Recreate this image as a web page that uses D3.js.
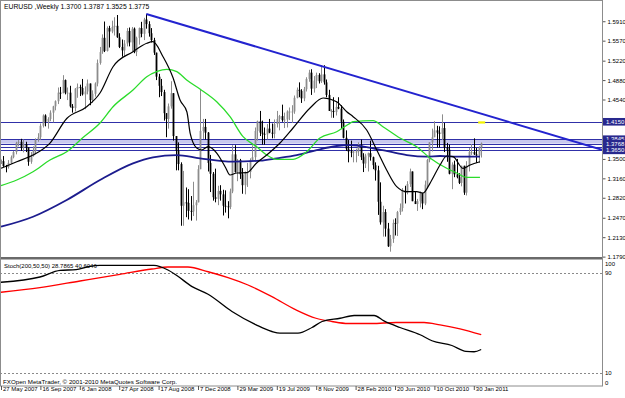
<!DOCTYPE html>
<html>
<head>
<meta charset="utf-8">
<script src="https://cdn.jsdelivr.net/npm/d3@7"></script>
<style>
  body { margin: 0; background: #fff; }
  svg { display: block; }
  text { font-family: "Liberation Sans", Arial, sans-serif; }
</style>
</head>
<body>
<svg id="chart" width="625" height="398"></svg>
<script>
// weekly EURUSD bars, 27 May 2007 .. 20 Feb 2011 (open = previous close)
var firstOpen = 1.3440;
var closes = [
  1.3460,1.3375,1.3360,1.3430,1.3530,1.3620,1.3780,1.3800,1.3690,1.3760,
  1.3700,1.3450,1.3560,1.3640,1.3830,1.3880,1.4080,1.4260,1.4150,1.4200,
  1.4310,1.4420,1.4510,1.4660,1.4650,1.4880,1.4660,1.4660,1.4420,1.4390,
  1.4730,1.4760,1.4740,1.4630,1.4680,1.4820,1.4530,1.4640,1.4820,1.5180,
  1.5370,1.5620,1.5390,1.5790,1.5730,1.5810,1.5830,1.5630,1.5460,1.5400,
  1.5520,1.5740,1.5540,1.5780,1.5370,1.5620,1.5790,1.5690,1.5940,1.5860,
  1.5700,1.5580,1.5360,1.4940,1.4780,1.4670,1.4300,1.4200,1.4420,1.4650,
  1.3900,1.3640,1.3410,1.2680,1.2740,1.2730,1.2590,1.2580,1.2690,1.2740,
  1.3320,1.3990,1.4060,1.3960,1.3430,1.3240,1.2830,1.2800,1.2940,1.2880,
  1.2680,1.2670,1.2660,1.2930,1.3580,1.3270,1.3480,1.3230,1.3040,1.3250,
  1.3270,1.3480,1.3530,1.3990,1.4160,1.3960,1.3940,1.3930,1.4030,1.3960,
  1.3940,1.4110,1.4200,1.4250,1.4180,1.4190,1.4330,1.4330,1.4330,1.4570,
  1.4710,1.4690,1.4560,1.4720,1.4900,1.5010,1.4730,1.4870,1.4970,1.4860,
  1.4980,1.4840,1.4620,1.4340,1.4340,1.4320,1.4410,1.4380,1.4150,1.3870,
  1.3680,1.3630,1.3610,1.3630,1.3630,1.3750,1.3530,1.3420,1.3560,1.3600,
  1.3530,1.3390,1.3300,1.2750,1.2390,1.2570,1.2280,1.1970,1.2100,1.2380,
  1.2370,1.2570,1.2640,1.2940,1.2910,1.3060,1.3280,1.2760,1.2710,1.2760,
  1.2900,1.2720,1.3050,1.3480,1.3790,1.3880,1.4000,1.3960,1.3940,1.4040,
  1.3700,1.3660,1.3240,1.3400,1.3230,1.3180,1.3080,1.3380,1.2910,1.3380,
  1.3620,1.3620,1.3580,1.3560,1.3700,1.3775
];
var highs = [
  1.3490,1.3550,1.3395,1.3480,1.3560,1.3640,1.3800,1.3830,1.3852,1.3840,
  1.3800,1.3700,1.3620,1.3720,1.3860,1.3950,1.4120,1.4280,1.4280,1.4230,
  1.4350,1.4430,1.4525,1.4750,1.4760,1.4966,1.4890,1.4750,1.4780,1.4460,
  1.4740,1.4820,1.4800,1.4900,1.4770,1.4890,1.4800,1.4700,1.4840,1.5240,
  1.5460,1.5680,1.5905,1.5820,1.5830,1.5920,1.5980,1.6019,1.5700,1.5590,
  1.5580,1.5790,1.5800,1.5810,1.5800,1.5640,1.5800,1.5900,1.5970,1.6038,
  1.5910,1.5790,1.5620,1.5330,1.4990,1.4900,1.4710,1.4290,1.4470,1.4860,
  1.4650,1.3890,1.3790,1.3440,1.3290,1.3000,1.2970,1.2850,1.3100,1.2780,
  1.3390,1.4720,1.4200,1.4200,1.3970,1.3570,1.3270,1.3330,1.3030,1.3040,
  1.2960,1.2950,1.2760,1.2980,1.3740,1.3740,1.3500,1.3500,1.3340,1.3280,
  1.3430,1.3510,1.3740,1.4050,1.4170,1.4340,1.4170,1.4050,1.4110,1.4200,
  1.4120,1.4190,1.4340,1.4270,1.4450,1.4310,1.4350,1.4400,1.4440,1.4610,
  1.4750,1.4840,1.4720,1.4760,1.4930,1.5060,1.5070,1.4950,1.5010,1.5000,
  1.5144,1.5140,1.4890,1.4710,1.4370,1.4580,1.4510,1.4580,1.4440,1.4190,
  1.4000,1.3830,1.3820,1.3660,1.3680,1.3790,1.3840,1.3600,1.3590,1.3610,
  1.3820,1.3540,1.3440,1.3380,1.3090,1.2680,1.2620,1.2380,1.2170,1.2440,
  1.2460,1.2590,1.2720,1.2990,1.3030,1.3110,1.3330,1.3210,1.2920,1.2800,
  1.2930,1.2900,1.3120,1.3500,1.3790,1.4030,1.4160,1.4080,1.4070,1.4280,
  1.4130,1.3780,1.3750,1.3440,1.3470,1.3500,1.3250,1.3380,1.3380,1.3460,
  1.3690,1.3760,1.3860,1.3690,1.3720,1.3787
];
var lows = [
  1.3410,1.3360,1.3265,1.3330,1.3410,1.3510,1.3580,1.3720,1.3640,1.3615,
  1.3620,1.3380,1.3415,1.3540,1.3580,1.3800,1.3835,1.4050,1.4070,1.4030,
  1.4160,1.4140,1.4350,1.4460,1.4550,1.4670,1.4630,1.4530,1.4400,1.4310,
  1.4330,1.4570,1.4600,1.4610,1.4370,1.4630,1.4440,1.4480,1.4590,1.4770,
  1.5150,1.5340,1.5370,1.5380,1.5450,1.5700,1.5660,1.5620,1.5440,1.5290,
  1.5300,1.5470,1.5470,1.5380,1.5350,1.5300,1.5500,1.5630,1.5580,1.5780,
  1.5640,1.5540,1.5320,1.4880,1.4580,1.4600,1.4170,1.3880,1.4030,1.4380,
  1.3820,1.3300,1.3300,1.2330,1.2330,1.2480,1.2440,1.2420,1.2500,1.2420,
  1.2740,1.3320,1.3850,1.3840,1.3280,1.2920,1.2770,1.2740,1.2690,1.2770,
  1.2510,1.2560,1.2460,1.2620,1.2900,1.3260,1.3110,1.3150,1.2890,1.2880,
  1.3010,1.3160,1.3470,1.3470,1.3820,1.3900,1.3750,1.3750,1.3840,1.3950,
  1.3860,1.3860,1.4050,1.4000,1.4150,1.4040,1.4050,1.4180,1.4130,1.4290,
  1.4560,1.4580,1.4480,1.4510,1.4680,1.4850,1.4620,1.4660,1.4740,1.4820,
  1.4830,1.4800,1.4580,1.4340,1.4220,1.4220,1.4260,1.4370,1.4030,1.3860,
  1.3640,1.3440,1.3530,1.3440,1.3440,1.3550,1.3480,1.3270,1.3340,1.3280,
  1.3470,1.3320,1.3120,1.2520,1.2350,1.2140,1.2140,1.1960,1.1876,1.2030,
  1.2160,1.2150,1.2520,1.2580,1.2720,1.2880,1.3010,1.2760,1.2710,1.2590,
  1.2650,1.2620,1.2690,1.3000,1.3440,1.3630,1.3900,1.3700,1.3700,1.3830,
  1.3620,1.3450,1.3230,1.2970,1.3180,1.3160,1.3060,1.3020,1.2870,1.2860,
  1.3280,1.3570,1.3570,1.3430,1.3430,1.3525
];

// moving averages: [bar, price]
var maFast = [[0,1.3336],[6.4,1.3451],[13,1.3568],[19.9,1.3778],[26.7,1.4207],[34.8,1.4414],
  [40.2,1.4654],[45.5,1.5114],[53.6,1.5377],[59.2,1.5524],[61.7,1.5552],[65.8,1.5289],
  [69.9,1.4916],[72.7,1.4531],[75.5,1.4321],[76.8,1.3953],[79.5,1.3691],[81.5,1.3656],
  [84.1,1.3714],[87.6,1.3603],[91,1.3364],[93,1.3218],[95.7,1.3253],[99.8,1.3259],
  [103.8,1.3428],[107.9,1.3568],[113.3,1.3778],[118.6,1.4041],[125.5,1.4391],[130.8,1.4566],
  [136.3,1.4501],[140.4,1.4326],[143,1.4239],[148.5,1.4006],[152.6,1.3656],[156.6,1.3306],
  [160.7,1.3014],[164.8,1.2926],[168.8,1.2926],[171.4,1.2903],[174.2,1.3073],[178.3,1.3393],
  [181,1.3551],[183.6,1.3539],[187.6,1.3336],[190.5,1.3393],[194.5,1.3451]];
var maMid = [[0,1.3031],[6.4,1.3131],[13,1.3276],[19.9,1.3481],[26.7,1.3626],[33.3,1.3875],
  [40.2,1.4129],[45.5,1.4414],[53.6,1.4706],[59.2,1.4939],[63.2,1.5027],[67.3,1.5069],
  [71.4,1.5027],[75.4,1.4881],[80.8,1.4724],[87.6,1.4501],[93,1.4239],[98.3,1.3889],
  [103.8,1.3714],[107.9,1.3568],[112,1.3493],[118.6,1.3493],[124.1,1.3626],[129.5,1.3866],
  [136.3,1.3976],[141.7,1.4123],[143,1.4151],[151.1,1.4169],[155.1,1.4064],[162,1.3866],
  [168.8,1.3714],[174.2,1.3516],[181,1.3336],[185.1,1.3253],[189.1,1.3178],[194.5,1.3178]];
var maSlow = [[0,1.2313],[13,1.2488],[26.7,1.2781],[40.2,1.3131],[53.6,1.3423],[61.7,1.3528],
  [71.4,1.3568],[80.8,1.3511],[94.2,1.3451],[105.2,1.3469],[112,1.3511],[120.1,1.3568],
  [128.2,1.3656],[136.3,1.3726],[141.7,1.3743],[151.1,1.3686],[158,1.3626],[164.8,1.3568],
  [172.9,1.3539],[178.3,1.3551],[185.1,1.3539],[194.5,1.3539]];

// Stoch(200,50,50): [bar, value]
var stochMain = [[0,82.6],[15.8,86.8],[24,92.1],[30.5,92.7],[35.3,95],[40.2,96.1],[62.1,96.1],
  [67.8,92.4],[71.1,88.4],[77.6,79.1],[84.1,73],[93.8,59.2],[103.6,48.5],[110,43.2],
  [113.3,41.9],[120.6,41.9],[126.3,46.4],[130.4,51.2],[137.7,53.8],[143.4,56],[151.5,56],
  [155.5,51.7],[162,46.4],[170.2,40.6],[175,35.8],[183.1,32],[188.8,27.3],[192.1,27],[195,28.8]];
var stochSignal = [[0,74.6],[15.8,78.3],[32.1,83.6],[48.3,88.9],[61.3,93.2],[67.8,94.8],
  [75.9,94.8],[84.1,91],[92.2,86.3],[100.3,80.4],[110,71.1],[119.8,60.5],[127.9,53.8],
  [134.4,51.2],[140.9,49.6],[150.6,49.6],[160.4,50.4],[171.8,50.4],[178.3,48.5],
  [186.4,45.3],[195,40.6]];

// visible price labels (1.4200 and 1.3840 sit under the line boxes)
var priceTicks = ["1.5910","1.5570","1.5220","1.4880","1.4540",
  "1.3500","1.3160","1.2820","1.2470","1.2130","1.1790"];
var stochTicks = [100, 90, 10, 0];
var stochLevels = [90, 10];
var dateLabels = ["27 May 2007","16 Sep 2007","6 Jan 2008","27 Apr 2008","17 Aug 2008",
  "7 Dec 2008","29 Mar 2009","19 Jul 2009","8 Nov 2009","28 Feb 2010","20 Jun 2010",
  "10 Oct 2010","30 Jan 2011"];
var dateBars = [0,16,32,48,64,80,96,112,128,144,160,176,192];

var hLines = [1.4150, 1.3845, 1.3712, 1.3768, 1.3650];
var lineBoxes = [1.4150, 1.3845, 1.3768, 1.3650];
var band = [1.3768, 1.3845];
var trend = [[59, 1.6038], [130, 1.5126]];
var mark = [195.2, 1.4140];

var svg = d3.select("#chart"),
  plotRight = 602,
  main = {top: 1, bottom: 257},
  sub = {top: 260.5, bottom: 385.5};

var x = d3.scaleLinear().domain([0, 195]).range([1, 1 + 195 * 2.4625]);
var y = d3.scaleLinear().domain([1.1790, 1.5144]).range([256.6, 65]);
var ys = d3.scaleLinear().domain([10, 90]).range([373, 273]);

svg.append("clipPath").attr("id", "clipMain")
  .append("rect").attr("x", 0).attr("y", main.top).attr("width", plotRight).attr("height", main.bottom - main.top);

var g = svg.append("g").attr("clip-path", "url(#clipMain)");

// rectangle band + horizontal lines
g.append("rect")
  .attr("x", 0).attr("width", plotRight)
  .attr("y", y(band[1])).attr("height", y(band[0]) - y(band[1]))
  .attr("fill", "#c8c8ee");

g.selectAll(".hline").data(hLines).enter().append("line")
  .attr("x1", 0).attr("x2", plotRight)
  .attr("y1", d => Math.round(y(d)) + 0.5).attr("y2", d => Math.round(y(d)) + 0.5)
  .attr("stroke", "#3030a8").attr("stroke-width", 1);

// candles
var bars = closes.map(function(c, i) {
  return {i: i, o: i ? closes[i - 1] : firstOpen, h: highs[i], l: lows[i], c: c};
});

var cg = g.append("g");
bars.forEach(function(d) {
  var up = d.c >= d.o,
    col = up ? "#8c8c8c" : "#000",
    cx = Math.round(x(d.i)) + 0.5,
    top = Math.max(d.h, d.o, d.c), bot = Math.min(d.l, d.o, d.c);
  cg.append("line")
    .attr("x1", cx).attr("x2", cx)
    .attr("y1", y(top)).attr("y2", y(bot))
    .attr("stroke", col).attr("stroke-width", 1);
  cg.append("rect")
    .attr("x", cx - 0.9).attr("width", 1.8)
    .attr("y", y(Math.max(d.o, d.c)))
    .attr("height", Math.max(1, Math.abs(y(d.o) - y(d.c))))
    .attr("fill", col);
});

// moving averages
var maLine = d3.line().x(d => x(d[0])).y(d => y(d[1])).curve(d3.curveMonotoneX);
g.append("path").datum(maSlow).attr("d", maLine)
  .attr("fill", "none").attr("stroke", "#1c1c8e").attr("stroke-width", 1.8);
g.append("path").datum(maMid).attr("d", maLine)
  .attr("fill", "none").attr("stroke", "#2bdc2b").attr("stroke-width", 1.3);
g.append("path").datum(maFast).attr("d", maLine)
  .attr("fill", "none").attr("stroke", "#000").attr("stroke-width", 1.2);

// trend line, extended to the right edge
var slope = (trend[1][1] - trend[0][1]) / (trend[1][0] - trend[0][0]),
  endBar = x.invert(plotRight);
g.append("line")
  .attr("x1", x(trend[0][0])).attr("y1", y(trend[0][1]))
  .attr("x2", x(endBar)).attr("y2", y(trend[0][1] + slope * (endBar - trend[0][0])))
  .attr("stroke", "#2323cf").attr("stroke-width", 2);

// yellow marker
g.append("rect")
  .attr("x", x(mark[0]) - 3.5).attr("y", y(mark[1]) - 1)
  .attr("width", 7).attr("height", 2.2).attr("fill", "#f2f200");

// header
svg.append("text").attr("x", 4).attr("y", 9)
  .attr("font-size", 6.8).attr("fill", "#000")
  .text("EURUSD ,Weekly  1.3700 1.3787 1.3525 1.3775");

// window separator
svg.append("rect").attr("x", 0).attr("y", 257).attr("width", plotRight + 1).attr("height", 2.5)
  .attr("fill", "#6a6a6a");

// stochastic sub-window
svg.selectAll(".lvl").data(stochLevels).enter().append("line")
  .attr("x1", 0).attr("x2", plotRight)
  .attr("y1", d => Math.round(ys(d)) + 0.5).attr("y2", d => Math.round(ys(d)) + 0.5)
  .attr("stroke", "#8a8a8a").attr("stroke-dasharray", "2,2");

svg.append("text").attr("x", 4).attr("y", 268)
  .attr("font-size", 6).attr("fill", "#000")
  .text("Stoch(200,50,50) 28.7865 40.6046");

var stLine = d3.line().x(d => x(d[0])).y(d => ys(d[1])).curve(d3.curveMonotoneX);
svg.append("path").datum(stochSignal).attr("d", stLine)
  .attr("fill", "none").attr("stroke", "#ff0000").attr("stroke-width", 1.3);
svg.append("path").datum(stochMain).attr("d", stLine)
  .attr("fill", "none").attr("stroke", "#000").attr("stroke-width", 1.3);

svg.append("text").attr("x", 3).attr("y", 384)
  .attr("font-size", 6.2).attr("fill", "#000")
  .text("FXOpen MetaTrader, \u00a9 2001-2010 MetaQuotes Software Corp.");

// frame
svg.append("rect").attr("x", 0.5).attr("y", 0.5).attr("width", plotRight).attr("height", sub.bottom)
  .attr("fill", "none").attr("stroke", "#8c8c8c");

// price axis
var yAxis = svg.append("g")
  .attr("transform", `translate(${plotRight + 0.5},0)`)
  .call(d3.axisRight(y).tickValues(priceTicks.map(Number)).tickFormat((d, i) => priceTicks[i])
    .tickSize(3).tickPadding(2).tickSizeOuter(0));
yAxis.select(".domain").remove();
yAxis.selectAll("line").attr("stroke", "#555");
yAxis.selectAll("text").attr("font-size", 6).attr("font-family", "Liberation Sans, Arial").attr("fill", "#000");

// stochastic axis labels
svg.selectAll(".sl").data(stochTicks).enter().append("text")
  .attr("x", plotRight + 3)
  .attr("y", d => Math.min(Math.max(ys(d), sub.top + 3), sub.bottom - 3))
  .attr("dy", "0.35em")
  .attr("font-size", 6).attr("fill", "#000")
  .text(d => d);

// price line boxes
var boxes = svg.append("g");
lineBoxes.forEach(function(p) {
  var yy = y(p);
  boxes.append("rect").attr("x", plotRight + 1).attr("y", yy - 3.8)
    .attr("width", 22).attr("height", 7.6).attr("fill", "#28288e");
  boxes.append("text").attr("x", plotRight + 4).attr("y", yy).attr("dy", "0.35em")
    .attr("font-size", 6).attr("fill", "#fff").text(p.toFixed(4));
});

// right axis line
svg.append("line").attr("x1", plotRight + 0.5).attr("x2", plotRight + 0.5)
  .attr("y1", 0).attr("y2", sub.bottom + 0.5).attr("stroke", "#8c8c8c");

// time axis
var xAxis = svg.append("g")
  .attr("transform", `translate(0,${sub.bottom + 0.5})`)
  .call(d3.axisBottom(x).tickValues(dateBars).tickFormat((d, i) => dateLabels[i])
    .tickSize(4).tickSizeOuter(0));
xAxis.select(".domain").remove();
xAxis.selectAll("line").attr("stroke", "#555");
xAxis.selectAll("text").attr("text-anchor", "start").attr("dx", 1.5).attr("y", 1)
  .attr("font-size", 6).attr("font-family", "Liberation Sans, Arial").attr("fill", "#000");
</script>
</body>
</html>
